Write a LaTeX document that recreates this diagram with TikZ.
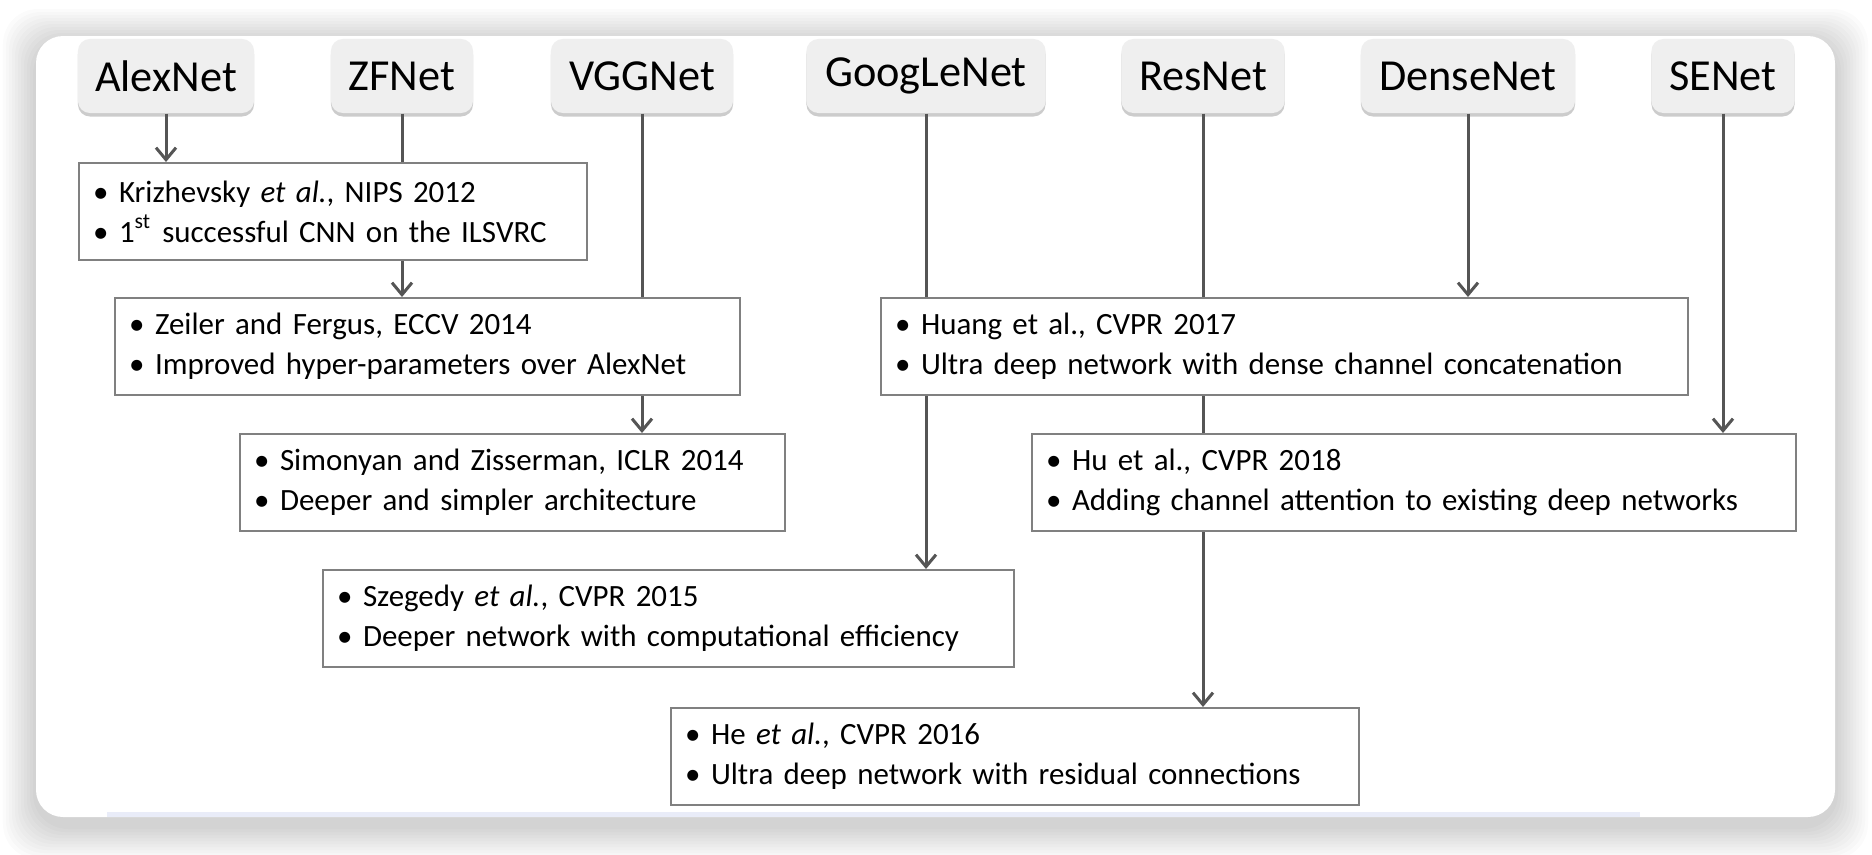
\documentclass[tikz,border=0pt]{standalone}
\usepackage{fontspec}
\setmainfont{Carlito}
\usetikzlibrary{positioning}
\usetikzlibrary{arrows.meta}
\usetikzlibrary{shadows}

\definecolor{netgray}{HTML}{EFEFEF}
\definecolor{boxline}{HTML}{808080}
\definecolor{arrowgray}{HTML}{555555}
\definecolor{stripblue}{HTML}{E9ECF8}

% one bullet line of a paper box
\newcommand{\itm}[1]{\mbox{\makebox[0.26cm][l]{\textbullet}#1}}

\tikzset{
    net/.style={fill=netgray, rounded corners=0.12cm, minimum height=0.74cm, inner sep=0pt,
        font=\fontsize{12.6}{14}\selectfont,
        drop shadow={shadow xshift=0cm, shadow yshift=-0.035cm, opacity=0.4}},
    paper/.style={draw=boxline, line width=0.02cm, fill=white, anchor=north west, align=left,
        inner xsep=0.14cm, inner ysep=0pt, minimum height=0.97cm,
        font=\fontsize{8.8}{11.4}\selectfont},
    link/.style={draw=arrowgray, line width=0.03cm},
    flow/.style={link, -{Straight Barb[length=0.12cm, width=0.2cm]}},
}

\begin{document}
\begin{tikzpicture}[x=0.01cm, y=-0.01cm]
        \useasboundingbox (0,0) rectangle (1872,854);
        \fill[white] (0,0) rectangle (1872,854);

        % card with soft shadow
        \foreach \s in {1,...,11}
            \fill[black, opacity=0.017, rounded corners=0.35cm]
                ({36-3*\s},{42-3*\s}) rectangle ({1835+3*\s},{826+3*\s});
        \fill[white, rounded corners=0.27cm] (36,36) rectangle (1835,817);
        \fill[stripblue] (107,812) rectangle (1640,817);

        % networks
        \node[net, minimum width=1.76cm] (alex) at (166,76) {AlexNet};
        \node[net, minimum width=1.42cm] (zf) at (402,76) {ZFNet};
        \node[net, minimum width=1.82cm] (vgg) at (642,76) {VGGNet};
        \node[net, minimum width=2.39cm] (goog) at (926,76) {GoogLeNet};
        \node[net, minimum width=1.63cm] (res) at (1203,76) {ResNet};
        \node[net, minimum width=2.14cm] (dense) at (1468,76) {DenseNet};
        \node[net, minimum width=1.43cm] (se) at (1723,76) {SENet};

        % papers
        \node[paper, text width=4.80cm] (kriz) at (78,162)
            {\itm{Krizhevsky \textit{et al.}, NIPS 2012}\\
             \itm{1\textsuperscript{st} successful CNN on the ILSVRC}};
        \node[paper, text width=5.97cm] (zeiler) at (114,297)
            {\itm{Zeiler and Fergus, ECCV 2014}\\
             \itm{Improved hyper-parameters over AlexNet}};
        \node[paper, text width=5.17cm] (simon) at (239,433)
            {\itm{Simonyan and Zisserman, ICLR 2014}\\
             \itm{Deeper and simpler architecture}};
        \node[paper, text width=6.63cm] (szeg) at (322,569)
            {\itm{Szegedy \textit{et al.}, CVPR 2015}\\
             \itm{Deeper network with computational efficiency}};
        \node[paper, text width=6.60cm] (he) at (670,707)
            {\itm{He \textit{et al.}, CVPR 2016}\\
             \itm{Ultra deep network with residual connections}};
        \node[paper, text width=7.79cm] (huang) at (880,297)
            {\itm{Huang et al., CVPR 2017}\\
             \itm{Ultra deep network with dense channel concatenation}};
        \node[paper, text width=7.36cm] (hu) at (1031,433)
            {\itm{Hu et al., CVPR 2018}\\
             \itm{Adding channel attention to existing deep networks}};

        % connections
        \draw[flow] (alex) -- (alex |- kriz.north);
        \draw[link] (zf) -- (zf |- kriz.north);
        \draw[flow] (zf |- kriz.south) -- (zf |- zeiler.north);
        \draw[link] (vgg) -- (vgg |- zeiler.north);
        \draw[flow] (vgg |- zeiler.south) -- (vgg |- simon.north);
        \draw[link] (goog) -- (goog |- huang.north);
        \draw[flow] (goog |- huang.south) -- (goog |- szeg.north);
        \draw[link] (res) -- (res |- huang.north);
        \draw[link] (res |- huang.south) -- (res |- hu.north);
        \draw[flow] (res |- hu.south) -- (res |- he.north);
        \draw[flow] (dense) -- (dense |- huang.north);
        \draw[flow] (se) -- (se |- hu.north);
\end{tikzpicture}
\end{document}
